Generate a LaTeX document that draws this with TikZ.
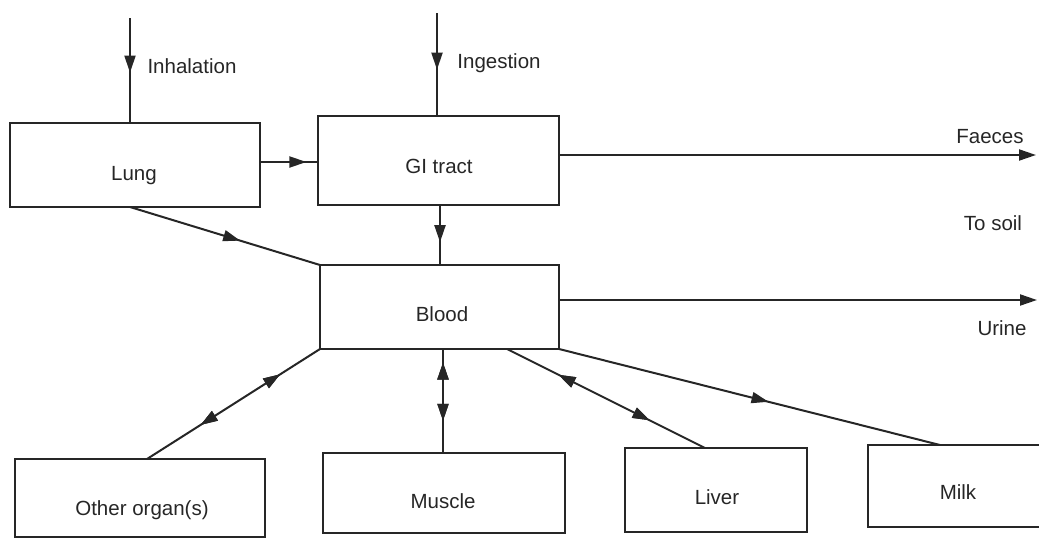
\documentclass[tikz,border=0pt]{standalone}
\usepackage{fontspec}
\setmainfont{Liberation Sans}
\usetikzlibrary{arrows.meta,decorations.markings}
\begin{document}
\begin{tikzpicture}[x=1pt,y=-1pt,
  line width=2pt, draw={black!85},
  box/.style={draw, rectangle, inner sep=0pt, outer sep=0pt},
  lbl/.style={font=\fontsize{20.5}{24}\selectfont, anchor=base, text=black!85, inner sep=0pt},
  tip/.style={-{Triangle[length=17pt,width=11pt]}},
  fwd/.style={postaction={decorate},decoration={markings,
      mark=at position #1 with {\arrow{Triangle[length=17pt,width=11pt]}}}},
  bwd/.style={postaction={decorate},decoration={markings,
      mark=at position #1 with {\arrowreversed{Triangle[length=17pt,width=11pt]}}}}
]
\useasboundingbox (0,0) rectangle (1039,538);
\begin{scope}
\clip (0,0) rectangle (1039,538);
% boxes
\node[box, minimum width=250pt, minimum height=84pt] (lung) at (135,165) {};
\node[box, minimum width=241pt, minimum height=89pt] (gi) at (438.5,160.5) {};
\node[box, minimum width=239pt, minimum height=84pt] (blood) at (439.5,307) {};
\node[box, minimum width=250pt, minimum height=78pt] (other) at (140,498) {};
\node[box, minimum width=242pt, minimum height=80pt] (muscle) at (444,493) {};
\node[box, minimum width=182pt, minimum height=84pt] (liver) at (716,490) {};
\node[box, minimum width=190pt, minimum height=82pt] (milk) at (963,486) {};
% labels
\node[lbl] (tlung) at (134,180) {Lung};
\node[lbl] (tgi) at (439,173) {GI tract};
\node[lbl] (tblood) at (442,321) {Blood};
\node[lbl] (tother) at (142,515) {Other organ(s)};
\node[lbl] (tmuscle) at (443,508) {Muscle};
\node[lbl] (tliver) at (717,504) {Liver};
\node[lbl] (tmilk) at (958,499) {Milk};
\node[lbl] (tinh) at (192,73) {Inhalation};
\node[lbl] (ting) at (499,68) {Ingestion};
\node[lbl] (tfae) at (990,143) {Faeces};
\node[lbl] (tsoil) at (993,230) {To soil};
\node[lbl] (turine) at (1002,335) {Urine};
% free ends
\coordinate (inh) at (130,18);
\coordinate (ing) at (437,13);
\coordinate (fae) at (1036,155);
\coordinate (uri) at (1037,300);
% connectors
\draw[fwd=0.52] (inh) -- (inh |- lung.north);
\draw[fwd=0.55] (ing) -- (ing |- gi.north);
\draw[fwd=0.8] (lung.east |- 0,162) -- (gi.west |- 0,162);
\draw[tip] (gi.east |- fae) -- (fae);
\draw[fwd=0.62] (440,0 |- gi.south) -- (440,0 |- blood.north);
\draw[fwd=0.58] (130,0 |- lung.south) -- (blood.north west);
\draw[tip] (blood.east |- uri) -- (uri);
\draw[fwd=0.77, bwd=0.31] (147,0 |- other.north) -- (blood.south west);
\draw[fwd=0.87, bwd=0.31] (443,0 |- muscle.north) -- (443,0 |- blood.south);
\draw[fwd=0.74, bwd=0.28] (705,0 |- liver.north) -- (507,0 |- blood.south);
\draw[fwd=0.55] (blood.south east) -- (940,0 |- milk.north);
\end{scope}
\end{tikzpicture}
\end{document}
